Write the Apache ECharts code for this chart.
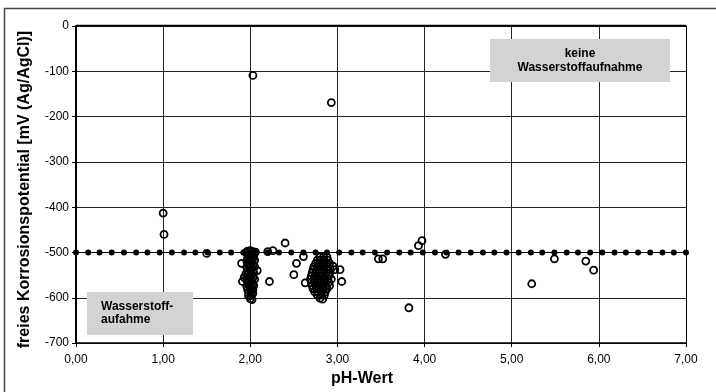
<!DOCTYPE html>
<html><head><meta charset="utf-8">
<script src="https://cdn.jsdelivr.net/npm/echarts@6/dist/echarts.min.js"></script>
<style>html,body{margin:0;padding:0;background:#fff}#c{width:716px;height:392px}</style>
</head><body><div id="c"></div>
<script>
// Axis ranges / ticks
const xTicks = [0, 1, 2, 3, 4, 5, 6, 7];
const yTicks = [0, -100, -200, -300, -400, -500, -600, -700];
// Boundary line (-500 mV): pH positions of its dots
const limitX = [0, 0.14, 0.27, 0.41, 0.55, 0.69, 0.82, 0.96, 1.10, 1.24, 1.37, 1.51, 1.65, 1.78, 1.92, 2.06, 2.20, 2.33, 2.47, 2.61, 2.75, 2.88, 3.02, 3.16, 3.29, 3.43, 3.57, 3.71, 3.84, 3.98, 4.12, 4.25, 4.39, 4.53, 4.67, 4.80, 4.94, 5.08, 5.22, 5.35, 5.49, 5.63, 5.76, 5.90, 6.04, 6.18, 6.31, 6.45, 6.59, 6.73, 6.86, 7.00];
const limitY = -500;
// Measured points [pH, mV] - isolated points
const outliers = [
 [1.00, -413], [1.01, -460], [1.50, -502], [2.03, -109], [2.93, -169],
 [2.22, -564], [2.20, -498], [2.26, -496], [2.40, -479], [2.53, -524], [2.61, -509], [2.50, -549],
 [2.97, -538], [3.03, -538], [3.05, -564], [2.63, -567], [2.95, -530],
 [3.47, -514], [3.52, -514], [3.82, -622], [3.93, -485], [3.97, -474], [4.24, -504],
 [5.23, -569], [5.49, -514], [5.85, -519], [5.94, -539]
];
// Measured points [pH, mV] - cluster around pH 2.0
const cluster20 = [
 [1.97, -497], [2.00, -496], [2.03, -498], [2.06, -499], [1.95, -500],
 [1.98, -505], [2.01, -503], [2.04, -506],
 [1.97, -512], [2.00, -511], [2.03, -513],
 [1.96, -519], [1.99, -518], [2.02, -520], [2.05, -517],
 [1.97, -526], [2.00, -525], [2.03, -527],
 [1.96, -533], [1.99, -532], [2.02, -534], [2.05, -531],
 [1.97, -540], [2.00, -539], [2.03, -541],
 [1.95, -547], [1.98, -546], [2.01, -548], [2.04, -545],
 [1.97, -554], [2.00, -553], [2.03, -555],
 [1.96, -561], [1.99, -560], [2.02, -562], [2.05, -559],
 [1.97, -568], [2.00, -567], [2.03, -569],
 [1.96, -575], [1.99, -574], [2.02, -576], [2.04, -573],
 [1.97, -582], [2.00, -581], [2.03, -583],
 [1.98, -589], [2.01, -588], [2.03, -590],
 [1.98, -596], [2.01, -595], [2.00, -602], [2.02, -604],
 [1.90, -524], [1.91, -564], [2.08, -540], [1.93, -555]
];
// Measured points [pH, mV] - cluster around pH 2.8
const cluster28 = [
 [2.80, -510], [2.84, -510], [2.88, -510],
 [2.77, -517], [2.81, -517], [2.85, -517], [2.89, -517],
 [2.75, -524], [2.79, -524], [2.83, -524], [2.87, -524], [2.91, -524],
 [2.73, -531], [2.77, -531], [2.81, -531], [2.85, -531], [2.89, -531],
 [2.72, -538], [2.76, -538], [2.80, -538], [2.84, -538], [2.88, -538], [2.92, -538],
 [2.71, -545], [2.75, -545], [2.79, -545], [2.83, -545], [2.87, -545], [2.91, -545],
 [2.70, -552], [2.74, -552], [2.78, -552], [2.82, -552], [2.86, -552], [2.90, -552],
 [2.69, -559], [2.73, -559], [2.77, -559], [2.81, -559], [2.85, -559], [2.89, -559], [2.93, -559],
 [2.70, -566], [2.74, -566], [2.78, -566], [2.82, -566], [2.86, -566], [2.90, -566],
 [2.71, -573], [2.75, -573], [2.79, -573], [2.83, -573], [2.87, -573], [2.91, -573],
 [2.72, -580], [2.76, -580], [2.80, -580], [2.84, -580], [2.88, -580],
 [2.74, -587], [2.78, -587], [2.82, -587], [2.86, -587],
 [2.77, -594], [2.81, -594], [2.85, -594],
 [2.80, -601], [2.83, -603]
];
const limitData = limitX.map(x => [x, limitY]);
const measData = outliers.concat(cluster20, cluster28);

const chart = echarts.init(document.getElementById('c'), null, {renderer: 'canvas'});
const font = 'Liberation Sans, Arial, sans-serif';
chart.setOption({
  animation: false,
  backgroundColor: '#fff',
  grid: {left: 76, right: 30, top: 26, bottom: 46, show: false},
  xAxis: {
    type: 'value', min: xTicks[0], max: xTicks[xTicks.length - 1], interval: 1,
    name: 'pH-Wert', nameLocation: 'middle', nameGap: 26,
    nameTextStyle: {fontFamily: font, fontSize: 16, fontWeight: 'bold', color: '#000', padding: [0, 38, 0, 0]},
    axisLine: {show: true, onZero: false, lineStyle: {color: '#000', width: 1.5}},
    axisTick: {show: true, length: 4, lineStyle: {color: '#000'}},
    axisLabel: {fontFamily: font, fontSize: 12, color: '#000', margin: 11,
      formatter: v => v.toFixed(2).replace('.', ',')},
    splitLine: {show: true, lineStyle: {color: '#222', width: 1}}
  },
  yAxis: {
    type: 'value', min: yTicks[yTicks.length - 1], max: yTicks[0], interval: 100,
    name: 'freies Korrosionspotential [mV (Ag/AgCl)]', nameLocation: 'middle', nameGap: 43,
    nameTextStyle: {fontFamily: font, fontSize: 16, fontWeight: 'bold', color: '#000', padding: [0, 10, 0, 0]},
    axisLine: {show: true, onZero: false, lineStyle: {color: '#000', width: 2}},
    axisTick: {show: true, length: 4, lineStyle: {color: '#000'}},
    axisLabel: {fontFamily: font, fontSize: 12, color: '#000', margin: 7},
    splitLine: {show: true, lineStyle: {color: '#222', width: 1}}
  },
  graphic: [
    {type: 'rect', shape: {x: 4.5, y: 8.5, width: 720, height: 400}, style: {fill: 'none', stroke: '#444', lineWidth: 1.5}, z: 0},
    {type: 'line', shape: {x1: 76, y1: 25.7, x2: 686, y2: 25.7}, style: {stroke: '#000', lineWidth: 2}, z: 5},
    {type: 'line', shape: {x1: 686.5, y1: 25.7, x2: 686.5, y2: 346}, style: {stroke: '#000', lineWidth: 1}, z: 5},
    {type: 'rect', shape: {x: 490, y: 39, width: 180, height: 43}, style: {fill: '#d3d3d3'}, z: 10},
    {type: 'text', x: 580, y: 60.5, z: 11, style: {text: 'keine\nWasserstoffaufnahme', fill: '#000', font: 'bold 12px ' + font, align: 'center', verticalAlign: 'middle', lineHeight: 14}},
    {type: 'rect', shape: {x: 87, y: 292, width: 106, height: 43}, style: {fill: '#d3d3d3'}, z: 10},
    {type: 'text', x: 101, y: 313, z: 11, style: {text: 'Wasserstoff-\naufahme', fill: '#000', font: 'bold 12px ' + font, align: 'left', verticalAlign: 'middle', lineHeight: 13}}
  ],
  series: [
    {type: 'line', data: limitData, symbol: 'circle', symbolSize: 6, showSymbol: true,
      itemStyle: {color: '#000', opacity: 1}, lineStyle: {color: '#000', width: 1}, z: 3},
    {type: 'scatter', data: measData, symbol: 'circle', symbolSize: 7,
      itemStyle: {color: 'rgba(255,255,255,0)', opacity: 1, borderColor: '#000', borderWidth: 1.8}, z: 4}
  ]
});
</script></body></html>
